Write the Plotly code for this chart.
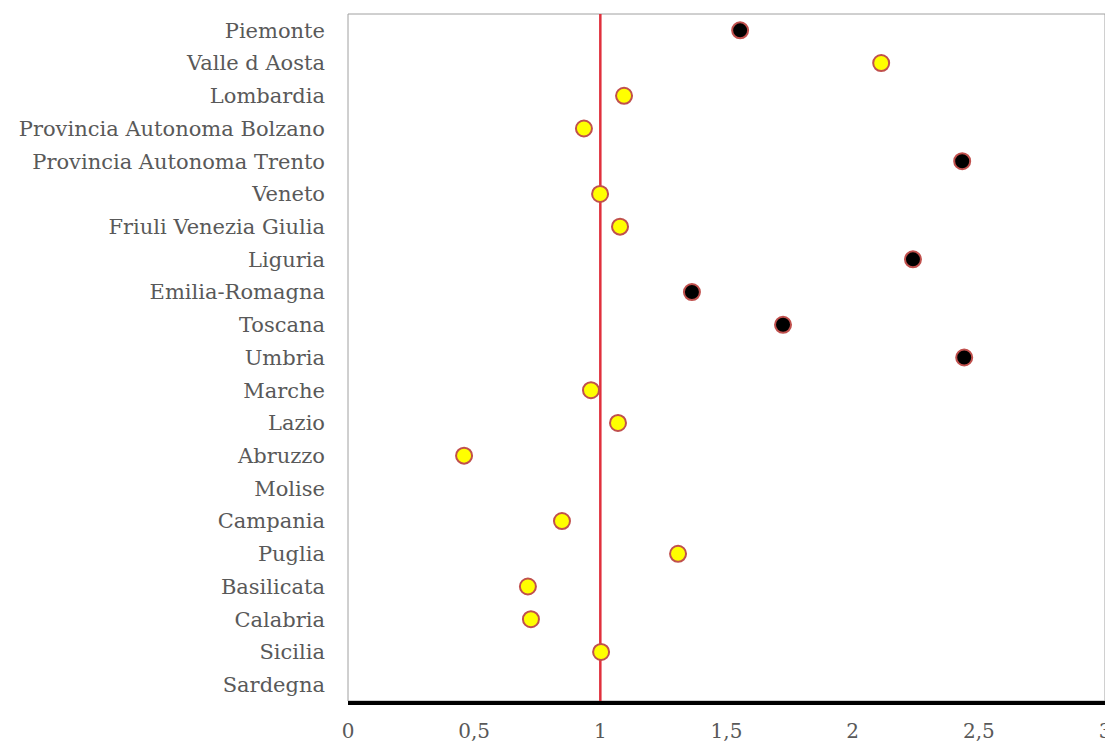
import plotly.graph_objects as go

regions = ["Piemonte", "Valle d Aosta", "Lombardia", "Provincia Autonoma Bolzano",
           "Provincia Autonoma Trento", "Veneto", "Friuli Venezia Giulia", "Liguria",
           "Emilia-Romagna", "Toscana", "Umbria", "Marche", "Lazio", "Abruzzo",
           "Molise", "Campania", "Puglia", "Basilicata", "Calabria", "Sicilia", "Sardegna"]
values = [1.554, 2.113, 1.094, 0.935, 2.434, 0.999, 1.078, 2.239, 1.363, 1.724, 2.442,
          0.963, 1.070, 0.460, None, 0.848, 1.308, 0.713, 0.725, 1.003, None]
significant = [True, False, False, False, True, False, False, True, True, True, True,
               False, False, False, False, False, False, False, False, False, False]
reference_value = 1
tick_vals = [0, 0.5, 1, 1.5, 2, 2.5, 3]
tick_text = ["0", "0,5", "1", "1,5", "2", "2,5", "3"]

yellow_x = [v if (v is not None and not s) else None for v, s in zip(values, significant)]
black_x = [v if (v is not None and s) else None for v, s in zip(values, significant)]

font_family = "DejaVu Serif"

fig = go.Figure()
fig.add_trace(go.Scatter(
    x=yellow_x, y=regions, mode="markers",
    marker=dict(size=16, color="#FFFF00", line=dict(color="#C0504D", width=2)),
    showlegend=False, cliponaxis=False))
fig.add_trace(go.Scatter(
    x=black_x, y=regions, mode="markers",
    marker=dict(size=16, color="#000000", line=dict(color="#C0504D", width=2)),
    showlegend=False, cliponaxis=False))

fig.add_shape(type="rect", xref="paper", yref="paper", x0=0, x1=1, y0=0, y1=1,
              line=dict(color="#A0A0A0", width=1), layer="below")
fig.add_shape(type="line", xref="x", yref="paper", x0=reference_value, x1=reference_value,
              y0=0, y1=1, line=dict(color="#E0303C", width=2.5), layer="below")

fig.update_layout(
    width=1105, height=739,
    margin=dict(l=340, r=8, t=6, b=46, autoexpand=False),
    plot_bgcolor="white", paper_bgcolor="white",
    font=dict(family=font_family, size=21, color="#595959"),
)
fig.update_xaxes(range=[0, 3], tickvals=tick_vals, ticktext=tick_text,
                 showgrid=False, zeroline=False, showline=True,
                 linecolor="black", linewidth=4, ticks="", ticklen=0,
                 ticklabelstandoff=9, automargin=False,
                 tickfont=dict(size=20, color="#595959"))
fig.update_yaxes(categoryorder="array", categoryarray=regions,
                 range=[20.5, -0.5], showgrid=False, zeroline=False,
                 showline=False, ticks="", ticklabelstandoff=22, automargin=False,
                 tickfont=dict(size=21, color="#595959"))

fig.write_html("out.html")
